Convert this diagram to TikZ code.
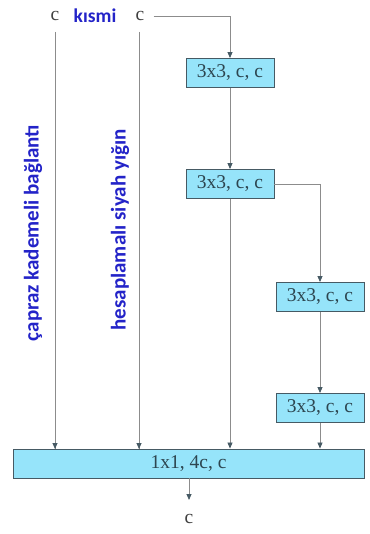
\documentclass[tikz,border=0pt]{standalone}
\usepackage{fontspec}
\setmainfont{Liberation Serif}
\newfontfamily\bluefont{Carlito}
\usetikzlibrary{arrows.meta}
\definecolor{boxfill}{RGB}{150,228,250}
\definecolor{boxdraw}{RGB}{70,90,100}
\definecolor{boxtext}{RGB}{45,70,80}
\definecolor{linegray}{RGB}{140,140,140}
\definecolor{lblblue}{RGB}{35,35,200}
\tikzset{
  x=1pt,y=1pt,
  convbox/.style={draw=boxdraw,fill=boxfill,line width=0.9pt,inner sep=0pt,
     font=\fontsize{19.5}{19.5}\selectfont,text=boxtext},
  smallbox/.style={convbox,minimum width=88pt,minimum height=29pt},
  conn/.style={draw=linegray,line width=0.8pt},
  arr/.style={conn,-{Triangle[width=5pt,length=6pt,fill=boxdraw,color=boxdraw]}},
  clabel/.style={font=\fontsize{19.5}{19.5}\selectfont,text=black!75,inner sep=1pt},
  bluelbl/.style={font=\bluefont\bfseries\fontsize{21}{21}\selectfont,text=lblblue,inner sep=0pt},
}
\begin{document}
\begin{tikzpicture}
\useasboundingbox (0,0) rectangle (369,-534);
\node[clabel] (cl) at (55,-16) {c};
\node[bluelbl,font=\bluefont\bfseries\fontsize{19.5}{19.5}\selectfont] (k) at (95,-16) {kısmi};
\node[clabel] (cr) at (140,-16) {c};
\node[smallbox] (b1) at (230,-73) {3x3, c, c};
\node[smallbox] (b2) at (230,-184) {3x3, c, c};
\node[smallbox] (b3) at (320,-297) {3x3, c, c};
\node[smallbox] (b4) at (320,-408) {3x3, c, c};
\node[convbox,minimum width=351pt,minimum height=29pt] (b5) at (188.5,-463.5) {1x1, 4c, c};
\node[clabel] (out) at (189,-519) {c};
\coordinate (outtip) at (189,-500);
\node[bluelbl,rotate=90] (t1) at (33,-233) {çapraz kademeli bağlantı};
\node[bluelbl,rotate=90] (t2) at (120,-230) {hesaplamalı siyah yığın};

\draw[conn] (55,-32) -- (55,-449);
\draw[arr] (55,-430) -- (55,-449);
\draw[conn] (139,-32) -- (139,-449);
\draw[arr] (139,-430) -- (139,-449);
\draw[arr] (cr.east) ++(8,0) -| (b1.north);
\draw[arr] (b1.south) -- (b2.north);
\draw[arr] (b2.south) -- (b2.south |- b5.north);
\draw[arr] (b2.east) -| (b3.north);
\draw[arr] (b3.south) -- (b4.north);
\draw[arr] (b4.south) -- (b4.south |- b5.north);
\draw[arr] (b5.south -| out) -- (outtip);
\end{tikzpicture}
\end{document}
